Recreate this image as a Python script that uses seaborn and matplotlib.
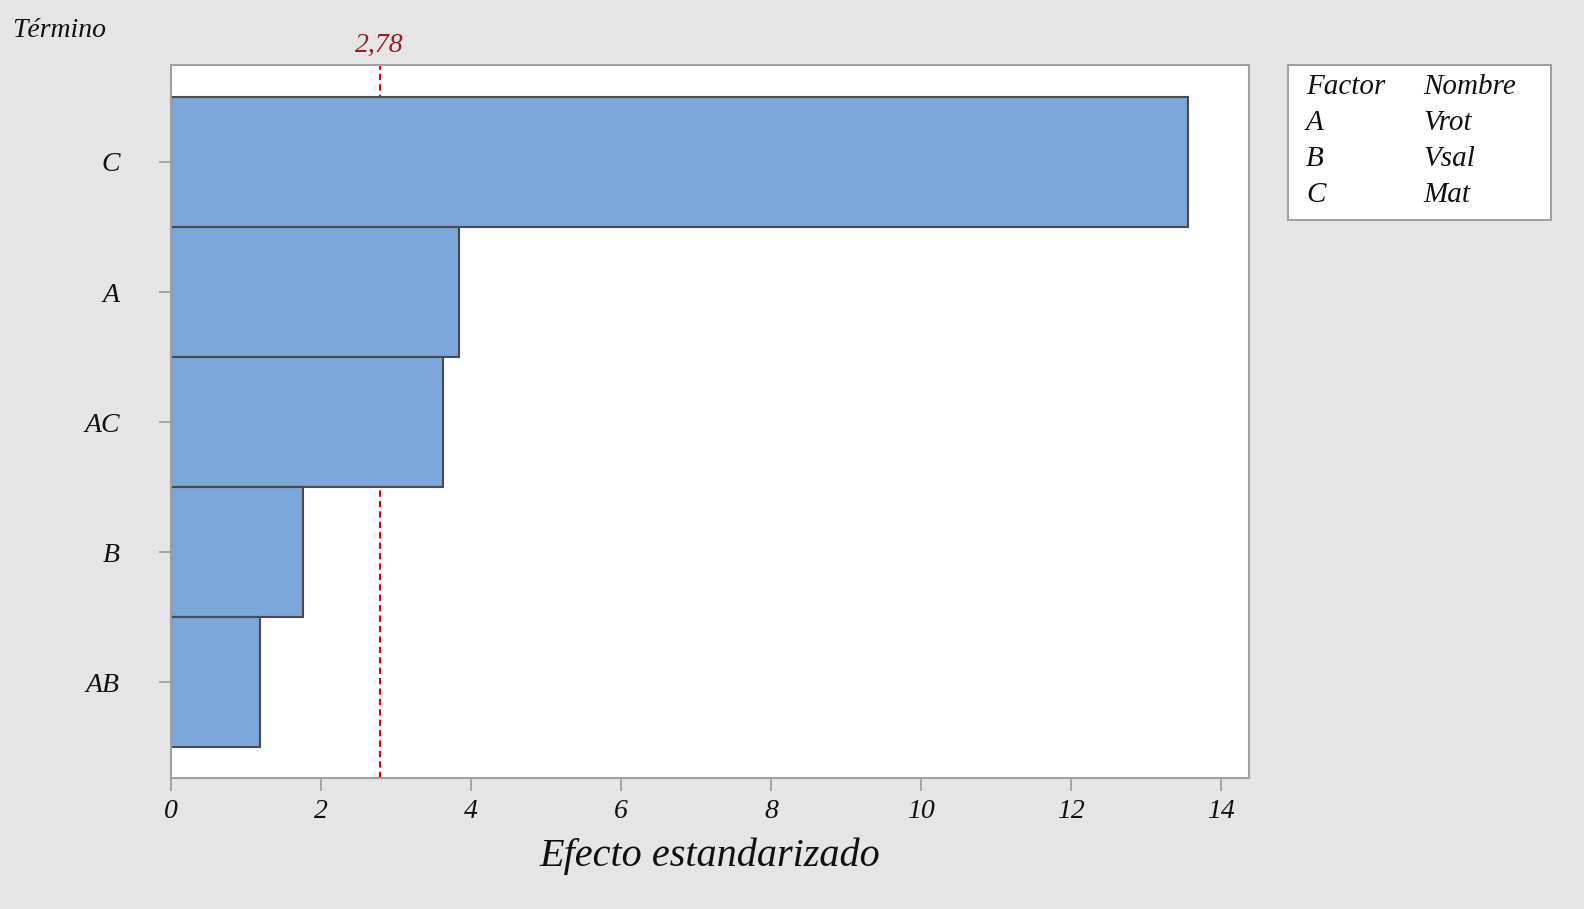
import pandas as pd
import matplotlib.pyplot as plt
import seaborn as sns
from matplotlib.patches import Rectangle

# --- data ---
terms = ["C", "A", "AC", "B", "AB"]
effects = [13.56, 3.84, 3.63, 1.76, 1.19]
critical = 2.78
factors = ["A", "B", "C"]
names = ["Vrot", "Vsal", "Mat"]
xticks = [0, 2, 4, 6, 8, 10, 12, 14]

BG = "#E5E5E5"
INK = "#111111"
sns.set_theme(style="white")
plt.rcParams['font.family'] = ['Liberation Serif', 'DejaVu Serif']
plt.rcParams['font.style'] = 'italic'
plt.rcParams['text.color'] = INK
plt.rcParams['xtick.color'] = INK
plt.rcParams['ytick.color'] = INK

df = pd.DataFrame({"Término": terms, "Efecto": effects})

fig = plt.figure(figsize=(15.84, 9.09), dpi=100, facecolor=BG)
ax = fig.add_axes([0.108, 0.1441, 0.6805, 0.7844])
ax.set_facecolor("white")

# reference line sits behind the bars
ax.axvline(critical, color="#DD0000", linestyle=(0, (3, 2)), linewidth=1.5, zorder=0.5)

sns.barplot(data=df, x="Efecto", y="Término", orient="h", width=1.0,
            color="#7BA7D9", saturation=1, edgecolor="#4A4A4A", linewidth=1.5, ax=ax)

ax.text(critical, 1.01, f"{critical:.2f}".replace(".", ","), transform=ax.get_xaxis_transform(),
        ha="center", va="bottom", color="#9B1C1C", fontsize=20, style="italic")

ax.set_xlim(0, 14.37)
ax.set_ylim(4.738, -0.746)
ax.set_xticks(xticks)
ax.set_xticklabels([str(t) for t in xticks])
ax.tick_params(axis="both", which="both", bottom=True, left=True, length=9, width=1.3,
               color="#A0A0A0", labelcolor=INK, labelsize=20, pad=6)
ax.tick_params(axis="y", pad=28)
for lab in ax.get_xticklabels() + ax.get_yticklabels():
    lab.set_style("italic")
for sp in ax.spines.values():
    sp.set_color("#A0A0A0")
    sp.set_linewidth(1.5)

ax.set_xlabel("Efecto estandarizado", fontsize=29, style="italic", labelpad=10, color=INK)
ax.set_ylabel("")
fig.text(0.008, 0.966, "Término", fontsize=20, style="italic", ha="left", va="center")

# legend table
box = Rectangle((1288 / 1584, 1 - 220 / 909), (1551 - 1288) / 1584, (220 - 65) / 909,
                transform=fig.transFigure, facecolor="white", edgecolor="#A0A0A0",
                linewidth=1.5)
fig.patches.append(box)
rows = [("Factor", "Nombre")] + list(zip(factors, names))
for i, (f, n) in enumerate(rows):
    y = 1 - (87 + i * 36) / 909
    fig.text(1306 / 1584, y, f, fontsize=21, style="italic", va="center")
    fig.text(1423 / 1584, y, n, fontsize=21, style="italic", va="center")

fig.savefig("out.png", dpi=100, facecolor=BG)
